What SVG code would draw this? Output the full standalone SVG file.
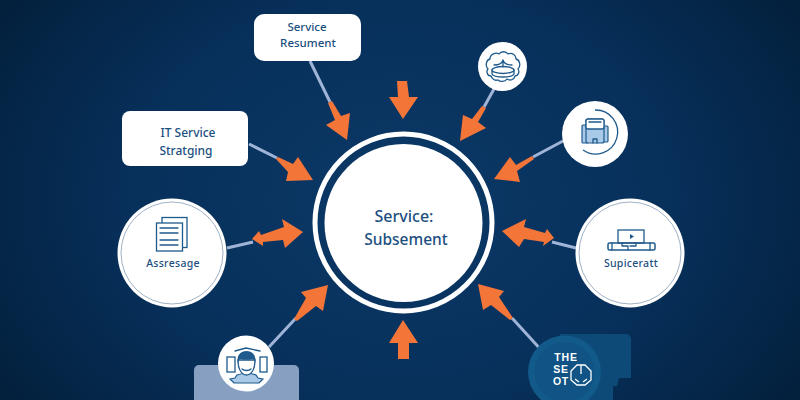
<svg xmlns="http://www.w3.org/2000/svg" width="800" height="400" viewBox="0 0 800 400">
<style>
text{font-family:"Noto Sans","Open Sans","DejaVu Sans",sans-serif;font-weight:500;fill:#1c4f80;text-anchor:middle}
.w{font-family:"Liberation Sans",Arial,sans-serif;font-weight:700;fill:#fff;letter-spacing:.8px}
.line{stroke:#9fb4d6;stroke-width:3;fill:none}
.arrow{fill:#f47538}
.ic{fill:none;stroke:#1f5a8c;stroke-width:1.300;stroke-linejoin:round;stroke-linecap:round}
.ring{fill:none;stroke:#9fb1c4;stroke-width:1}
.fillb{fill:#a9c9e8;stroke:#1f5a8c;stroke-width:1.200}
.fillw{fill:#fff;stroke:#1f5a8c;stroke-width:1.300}
</style>
<defs>
<radialGradient id="bg" gradientUnits="userSpaceOnUse" cx="400" cy="200" r="480" gradientTransform="matrix(1 0 0 .75 0 50)">
<stop offset="0" stop-color="#0c3967"/><stop offset=".55" stop-color="#07305b"/><stop offset="1" stop-color="#03203c"/>
</radialGradient>
</defs>
<rect width="800" height="400" fill="url(#bg)"/>
<g id="connectors">
<path class="line" d="M310 61L330 102M249 144L277 158M494 89L484 107M563 141L533 157M227 248L253 242M576 248L552 242M269 347L296 318M543 352L512 318"/>
<polygon class="arrow" points="328,103 332,101 341,116 350,113 347,140 326,125 335,120"/>
<polygon class="arrow" points="276,159 278,157 293,164 298,157 313,180 286,181 288,172"/>
<polygon class="arrow" points="397,81 407,81 409,97 418,97 403,119 389,97 398,97"/>
<polygon class="arrow" points="482,106 486,108 478,122 486,128 460,141 463,115 472,119"/>
<polygon class="arrow" points="532,156 534,159 517,171 520,182 494,179 510,157 516,165"/>
<polygon class="arrow" points="303,232 282,219 284,227 261,235 259,231 252,239 263,246 263,242 283,240 285,248"/>
<polygon class="arrow" points="502,231 526,219 524,227 545,233 547,229 554,238 543,246 544,242 524,239 519,247"/>
<polygon class="arrow" points="294,319 306,298 301,292 328,285 323,311 316,306 297,321"/>
<polygon class="arrow" points="478,284 504,291 499,297 513,318 510,320 491,305 483,310"/>
<polygon class="arrow" points="403,320 418,343 409,343 409,359 398,359 398,343 389,343"/>
</g>
<g id="center">
<circle cx="403.500" cy="222.500" r="88.500" fill="none" stroke="#fff" stroke-width="5"/>
<circle cx="403.500" cy="223" r="79" fill="#fff"/>
<text x="404" y="222" font-size="16" font-weight="600">Service:</text>
<text x="406" y="245" font-size="15.500" font-weight="600">Subsement</text>
</g>
<g id="service-resument">
<rect x="254" y="14" width="107" height="47" rx="10" fill="#fff"/>
<text x="307" y="31" font-size="11.500">Service</text>
<text x="308" y="47" font-size="11.500">Resument</text>
</g>
<g id="it-service">
<rect x="122" y="111" width="126" height="55" rx="8" fill="#fff"/>
<text x="188" y="137" font-size="12">IT Service</text>
<text x="186" y="155" font-size="12">Stratging</text>
</g>
<g id="cloud">
<circle cx="502.500" cy="66.500" r="24.500" fill="#fff"/>
<path class="ic" d="M491 76c-4 0-5-5-3-7-3-3-2-9 2-10 0-5 6-7 9-5 2-3 7-3 9 0 4-2 8 1 8 5 4 1 5 7 2 10 2 3 0 7-3 7-1 4-5 5-8 3-2 3-7 3-9 1-3 1-6-1-7-4z"/>
<ellipse class="ic" cx="503" cy="70" rx="11" ry="3.500"/>
<path class="ic" d="M492 70v4c2 4 20 4 22 0v-4M503 67v-7M494 65c5 0 8-1 9-5 1 4 4 5 9 5"/>
</g>
<g id="printer">
<circle cx="595" cy="134" r="33" fill="#fff"/>
<path d="M595 110A22 22 0 1 1 583 150" fill="none" stroke="#1f5a8c" stroke-width="1.300"/>
<rect x="582" y="125" width="6" height="18" rx="1" class="fillb"/>
<rect x="602" y="126" width="6" height="16" rx="1" class="fillb"/>
<rect x="586" y="119" width="18" height="24" rx="2" class="fillb"/>
<rect x="586" y="119" width="18" height="10" rx="2" class="fillw"/>
<path class="ic" d="M589 122h12M593 143v-4h4v4"/>
</g>
<g id="assresage">
<circle cx="172" cy="253" r="54.500" fill="#fff"/>
<circle class="ring" cx="172" cy="253" r="51"/>
<rect x="162" y="217.500" width="25" height="30" class="fillw" stroke-width="1.500"/>
<rect x="156.500" y="223" width="26" height="28" class="fillw" stroke-width="1.500"/>
<path class="ic" d="M160 228h18M160 233h18M160 240h18M160 245h18"/>
<text x="173" y="267" font-size="10.500" font-weight="600" letter-spacing=".3">Assresage</text>
</g>
<g id="supiceratt">
<circle cx="630" cy="253" r="54.500" fill="#fff"/>
<circle class="ring" cx="630" cy="253" r="51"/>
<rect x="618" y="230" width="26" height="13" class="fillw" stroke-width="1.500"/>
<path d="M630 234l4 2.500-4 2.500z" fill="#1f5a8c"/>
<rect x="608" y="243" width="47" height="7" rx="1.500" fill="none" stroke="#1f5a8c" stroke-width="1.500"/>
<path class="ic" d="M612 243v7M622 243v3h6v4M636 243v3h-6M650 243v7"/>
<text x="631" y="267" font-size="10.500" font-weight="600" letter-spacing=".3">Supiceratt</text>
</g>
<g id="person">
<rect x="194" y="365" width="105" height="40" rx="5" fill="#87a0c1"/>
<circle cx="246" cy="363.500" r="28" fill="#fff"/>
<rect x="227" y="357" width="8" height="15" class="fillw"/>
<rect x="260" y="357" width="7" height="15" class="fillw"/>
<path class="ic" d="M235 351l11-3 14 3"/>
<path d="M230 379l5-1 2-3c5-2 14-2 19 0l2 3 5 1-4 4h-25z" class="fillb"/>
<path d="M238 360c0 10 4 15 8.500 15s8.500-5 8.500-15z" class="fillw"/>
<path d="M238 364c-2-9 3-13 8.500-13s10.500 4 8.500 13c0-3-1-4-2-5-4 1-9 1-13 0-1 1-2 2-2 5z" fill="#1f5a8c"/>
<path class="ic" d="M242 369c2 2 7 2 9 0"/>
</g>
<g id="the-seot">
<path d="M560 334H626a5 5 0 0 1 5 5v39h-12l-2 8h-4v14H560z" fill="#0d4a78"/>
<circle cx="564.500" cy="372" r="36.500" fill="#125a8a"/>
<circle cx="564.500" cy="372" r="30" fill="#105384"/>
<text class="w" x="566" y="361" font-size="10.500">THE</text>
<text class="w" x="561" y="373" font-size="10.500">SE</text>
<text class="w" x="561" y="385" font-size="10.500">OT</text>
<path d="M571 371l6-6h8l6 6v9l-6 5h-8l-6-5zM581 365v9M575 379l4 3M587 379l-4 3" fill="none" stroke="#fff" stroke-width="1.300"/>
</g>
</svg>
